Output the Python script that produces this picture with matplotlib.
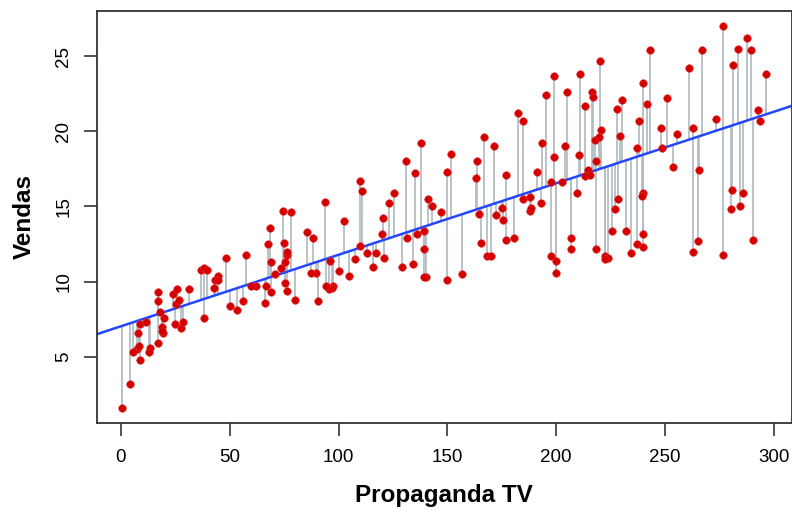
import numpy as np
import matplotlib
matplotlib.use("Agg")
import matplotlib.pyplot as plt

plt.rcParams["font.family"] = ["Liberation Sans", "DejaVu Sans"]

# Advertising data: TV budget vs sales
tv = [230.1, 44.5, 17.2, 151.5, 180.8, 8.7, 57.5, 120.2, 8.6, 199.8,
      66.1, 214.7, 23.8, 97.5, 204.1, 195.4, 67.8, 281.4, 69.2, 147.3,
      218.4, 237.4, 13.2, 228.3, 62.3, 262.9, 142.9, 240.1, 248.8, 70.6,
      292.9, 112.9, 97.2, 265.6, 95.7, 290.7, 266.9, 74.7, 43.1, 228.0,
      202.5, 177.0, 293.6, 206.9, 25.1, 175.1, 89.7, 239.9, 227.2, 66.9,
      199.8, 100.4, 216.4, 182.6, 262.7, 198.9, 7.3, 136.2, 210.8, 210.7,
      53.5, 261.3, 239.3, 102.7, 131.1, 69.0, 31.5, 139.3, 237.4, 216.8,
      199.1, 109.8, 26.8, 129.4, 213.4, 16.9, 27.5, 120.5, 5.4, 116.0,
      76.4, 239.8, 75.3, 68.4, 213.5, 193.2, 76.3, 110.7, 88.3, 109.8,
      134.3, 28.6, 217.7, 250.9, 107.4, 163.3, 197.6, 184.9, 289.7, 135.2,
      222.4, 296.4, 280.2, 187.9, 238.2, 137.9, 25.0, 90.4, 13.1, 255.4,
      225.8, 241.7, 175.7, 209.6, 78.2, 75.1, 139.2, 76.4, 125.7, 19.4,
      141.3, 18.8, 224.0, 123.1, 229.5, 87.2, 7.8, 80.2, 220.3, 59.6,
      0.7, 265.2, 8.4, 219.8, 36.9, 48.3, 25.6, 273.7, 43.0, 184.9,
      73.4, 193.7, 220.5, 104.6, 96.2, 140.3, 240.1, 243.2, 38.0, 44.7,
      280.7, 121.0, 197.6, 171.3, 187.8, 4.1, 93.9, 149.8, 11.7, 131.7,
      172.5, 85.7, 188.4, 163.5, 117.2, 234.5, 17.9, 206.8, 215.4, 284.3,
      50.0, 164.5, 19.6, 168.4, 222.4, 276.9, 248.4, 170.2, 276.7, 165.6,
      156.6, 218.5, 56.2, 287.6, 253.8, 205.0, 139.5, 191.1, 286.0, 18.7,
      39.5, 75.5, 17.2, 166.8, 149.7, 38.2, 94.2, 177.0, 283.6, 232.1]

sales = [22.1, 10.4, 9.3, 18.5, 12.9, 7.2, 11.8, 13.2, 4.8, 10.6,
         8.6, 17.4, 9.2, 9.7, 19.0, 22.4, 12.5, 24.4, 11.3, 14.6,
         18.0, 12.5, 5.6, 15.5, 9.7, 12.0, 15.0, 15.9, 18.9, 10.5,
         21.4, 11.9, 9.6, 17.4, 9.5, 12.8, 25.4, 14.7, 10.1, 21.5,
         16.6, 17.1, 20.7, 12.9, 8.5, 14.9, 10.6, 23.2, 14.8, 9.7,
         11.4, 10.7, 22.6, 21.2, 20.2, 23.7, 5.5, 13.2, 23.8, 18.4,
         8.1, 24.2, 15.7, 14.0, 18.0, 9.3, 9.5, 13.4, 18.9, 22.3,
         18.3, 12.4, 8.8, 11.0, 17.0, 8.7, 6.9, 14.2, 5.3, 11.0,
         11.8, 12.3, 11.3, 13.6, 21.7, 15.2, 12.0, 16.0, 12.9, 16.7,
         11.2, 7.3, 19.4, 22.2, 11.5, 16.9, 11.7, 15.5, 25.4, 17.2,
         11.7, 23.8, 14.8, 14.7, 20.7, 19.2, 7.2, 8.7, 5.3, 19.8,
         13.4, 21.8, 14.1, 15.9, 14.6, 12.6, 12.2, 9.4, 15.9, 6.6,
         15.5, 7.0, 11.6, 15.2, 19.7, 10.6, 6.6, 8.8, 24.7, 9.7,
         1.6, 12.7, 5.7, 19.6, 10.8, 11.6, 9.5, 20.8, 9.6, 20.7,
         10.9, 19.2, 20.1, 10.4, 11.4, 10.3, 13.2, 25.4, 10.9, 10.1,
         16.1, 11.6, 16.6, 19.0, 15.6, 3.2, 15.3, 10.1, 7.3, 12.9,
         14.4, 13.3, 14.9, 18.0, 11.9, 11.9, 8.0, 12.2, 17.1, 15.0,
         8.4, 14.5, 7.6, 11.7, 11.5, 27.0, 20.2, 11.7, 11.8, 12.6,
         10.5, 12.2, 8.7, 26.2, 17.6, 22.6, 10.3, 17.3, 15.9, 6.7,
         10.8, 9.9, 5.9, 19.6, 17.3, 7.6, 9.7, 12.8, 25.5, 13.4]

x_ticks = [0, 50, 100, 150, 200, 250, 300]
y_ticks = [5, 10, 15, 20, 25]

x = np.array(tv)
y = np.array(sales)

# least squares fit (like lm in R)
slope, intercept = np.polyfit(x, y, 1)
fitted = intercept + slope * x

fig = plt.figure(figsize=(7.92, 5.14), dpi=100)
ax = fig.add_axes([0.1221, 0.1765, 0.8774, 0.8027])

# residual segments, regression line, points
ax.vlines(x, y, fitted, colors="#b3bec4", linewidth=1.3, zorder=1)
ax.axline((0, intercept), slope=slope, color="#2446ff", linewidth=1.8, zorder=2)
ax.scatter(x, y, s=30, color="#d40000", edgecolors="#e03030", linewidths=0.4, zorder=3)

# R-style 4% axis extension
xr = x.max() - x.min()
yr = y.max() - y.min()
ax.set_xlim(x.min() - 0.04 * xr, x.max() + 0.04 * xr)
ax.set_ylim(y.min() - 0.04 * yr, y.max() + 0.04 * yr)

ax.set_xticks(x_ticks)
ax.set_yticks(y_ticks)
ax.tick_params(axis="both", direction="out", length=9.5, width=1.2,
               color="#333333", labelsize=13.5)
ax.tick_params(axis="x", pad=9)
ax.tick_params(axis="y", pad=8)
for lbl in ax.get_yticklabels():
    lbl.set_rotation(90)
    lbl.set_va("center")

for sp in ax.spines.values():
    sp.set_linewidth(1.3)
    sp.set_color("#333333")

ax.set_xlabel("Propaganda TV", fontsize=17.5, fontweight="bold")
ax.set_ylabel("Vendas", fontsize=17.5, fontweight="bold")
ax.xaxis.set_label_coords(0.5, -0.146)
ax.yaxis.set_label_coords(-0.087, 0.5)

fig.savefig("out.png", dpi=100)
